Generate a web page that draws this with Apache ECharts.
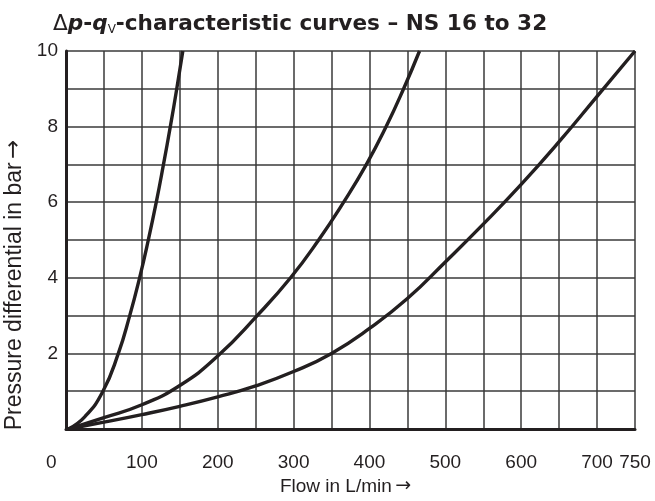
<!DOCTYPE html>
<html>
<head>
<meta charset="utf-8">
<script src="https://cdn.jsdelivr.net/npm/echarts@6/dist/echarts.min.js"></script>
<style>
	html, body { margin: 0; padding: 0; background: #fff; }
	#chart { width: 655px; height: 501px; }
</style>
</head>
<body>
<div id="chart"></div>
<script>
// curves: [flow L/min, pressure bar]
const curveSmall = [[3, 0], [25, 0.33], [48.7, 1], [69, 2], [84, 3], [97, 4], [108.5, 5], [119, 6], [128.5, 7], [137.5, 8], [146, 9], [154, 10]];
const curveMid = [[3, 0], [50, 0.3], [100, 0.64], [150, 1.15], [200, 1.93], [252, 3], [296, 4], [333, 5], [366, 6], [396, 7], [422, 8], [445, 9], [466, 10]];
const curveLarge = [[3, 0], [50, 0.18], [100, 0.38], [150, 0.6], [200, 0.85], [250, 1.14], [300, 1.52], [350, 2], [400, 2.66], [450, 3.45], [500, 4.42], [550, 5.42], [600, 6.47], [650, 7.6], [700, 8.8], [750, 10]];
const xLabelTicks = [0, 100, 200, 300, 400, 500, 600, 700, 750];
const yLabelTicks = [2, 4, 6, 8, 10];

const ink = '#231f20';
const gridInk = '#3a3a3a';
const font = 'Liberation Sans, Arial, sans-serif';
const titleFont = 'DejaVu Sans, sans-serif';

const chart = echarts.init(document.getElementById('chart'));

const lineSeries = (data) => ({
	type: 'line',
	data: data,
	smooth: 0.5,
	symbol: 'none',
	clip: true,
	lineStyle: { color: ink, width: 3.4 },
});

chart.setOption({
	animation: false,
	title: {
		text: '{d|Δ}{i|p}{b|-}{i|q}{s|V}{b|-characteristic curves – NS 16 to 32}',
		left: 48,
		top: 7,
		textStyle: {
			rich: {
				d: { fontFamily: titleFont, fontSize: 21.6, color: ink, fontWeight: 'normal' },
				i: { fontFamily: titleFont, fontSize: 21.6, color: ink, fontWeight: 'bold', fontStyle: 'italic' },
				b: { fontFamily: titleFont, fontSize: 21.6, color: ink, fontWeight: 'bold' },
				s: { fontFamily: titleFont, fontSize: 12, color: ink, fontWeight: 'normal', padding: [12, 0, 0, 0] },
			},
		},
	},
	grid: { left: 66, right: 20, top: 51, bottom: 72, containLabel: false, outerBoundsMode: 'none' },
	xAxis: {
		type: 'value',
		min: 0,
		max: 750,
		interval: 50,
		name: '{t|Flow in L/min} {a|→}',
		nameLocation: 'middle',
		nameGap: 48,
		nameTextStyle: {
			padding: [0, 10, 0, 0],
			rich: {
				t: { fontFamily: font, fontSize: 19, color: ink },
				a: { fontFamily: titleFont, fontSize: 19, color: ink },
			},
		},
		axisLine: { show: true, lineStyle: { color: ink, width: 3 } },
		axisTick: { show: false },
		axisLabel: {
			margin: 24,
			fontFamily: font,
			fontSize: 19,
			fontWeight: 500,
			color: ink,
			formatter: (v) => (v === 0 ? '{z|0}' : xLabelTicks.includes(v) ? String(v) : ''),
			rich: { z: { fontFamily: font, fontSize: 19, fontWeight: 500, color: ink, width: 40, align: 'left' } },
		},
		splitLine: { show: true, lineStyle: { color: gridInk, width: 1.5 } },
	},
	yAxis: {
		type: 'value',
		min: 0,
		max: 10,
		interval: 1,
		name: '{t|Pressure differential in bar} {a|→}',
		nameLocation: 'middle',
		nameGap: 40,
		nameTextStyle: {
			padding: [0, 90, 0, 0],
			rich: {
				t: { fontFamily: font, fontSize: 23, color: ink },
				a: { fontFamily: titleFont, fontSize: 23, color: ink },
			},
		},
		axisLine: { show: true, lineStyle: { color: ink, width: 3 } },
		axisTick: { show: false },
		axisLabel: {
			margin: 8,
			fontFamily: font,
			fontSize: 19,
			fontWeight: 500,
			color: ink,
			formatter: (v) => (yLabelTicks.includes(v) ? String(v) : ''),
		},
		splitLine: { show: true, lineStyle: { color: gridInk, width: 1.5 } },
	},
	series: [lineSeries(curveSmall), lineSeries(curveMid), lineSeries(curveLarge)],
});
</script>
</body>
</html>
